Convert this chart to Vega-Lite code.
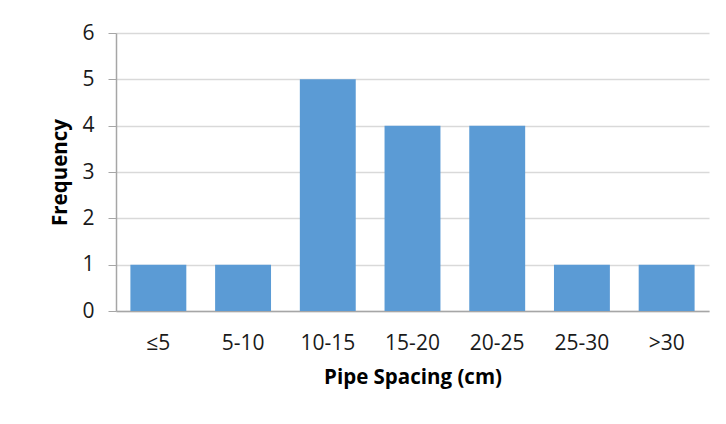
{
  "$schema": "https://vega.github.io/schema/vega-lite/v6.json",
  "autosize": {"type": "none"},
  "width": 593,
  "height": 278,
  "padding": {"left": 116, "top": 33, "right": 17, "bottom": 113},
  "background": "white",
  "data": {"values": [
    {"spacing": "≤5", "frequency": 1},
    {"spacing": "5-10", "frequency": 1},
    {"spacing": "10-15", "frequency": 5},
    {"spacing": "15-20", "frequency": 4},
    {"spacing": "20-25", "frequency": 4},
    {"spacing": "25-30", "frequency": 1},
    {"spacing": ">30", "frequency": 1}
  ]},
  "mark": {"type": "bar", "color": "#5B9BD5"},
  "encoding": {
    "x": {
      "field": "spacing", "type": "nominal", "sort": null,
      "scale": {"paddingInner": 0.34, "paddingOuter": 0.17},
      "axis": {
        "title": "Pipe Spacing (cm)", "labelAngle": 0, "ticks": false, "grid": false,
        "labelPadding": 21, "titlePadding": 14,
        "labelFont": "Open Sans", "labelFontSize": 21, "labelColor": "#1a1a1a",
        "titleFont": "Open Sans", "titleFontSize": 20.5, "titleFontWeight": "bold", "titleColor": "#000000",
        "domainColor": "#A6A6A6", "domainWidth": 1.5
      }
    },
    "y": {
      "field": "frequency", "type": "quantitative",
      "scale": {"domain": [0, 6], "nice": false},
      "axis": {
        "title": "Frequency", "values": [0, 1, 2, 3, 4, 5, 6], "labelOverlap": false, "grid": true,
        "tickSize": 8, "tickColor": "#A6A6A6", "labelPadding": 14,
        "labelFont": "Open Sans", "labelFontSize": 21, "labelColor": "#1a1a1a",
        "titleFont": "Open Sans", "titleFontSize": 20.5, "titleFontWeight": "bold", "titleColor": "#000000",
        "titlePadding": 11, "domainColor": "#A6A6A6", "domainWidth": 1.5,
        "gridColor": "#D9D9D9", "gridWidth": 1.3
      }
    }
  },
  "config": {
    "view": {"stroke": null}
  }
}
